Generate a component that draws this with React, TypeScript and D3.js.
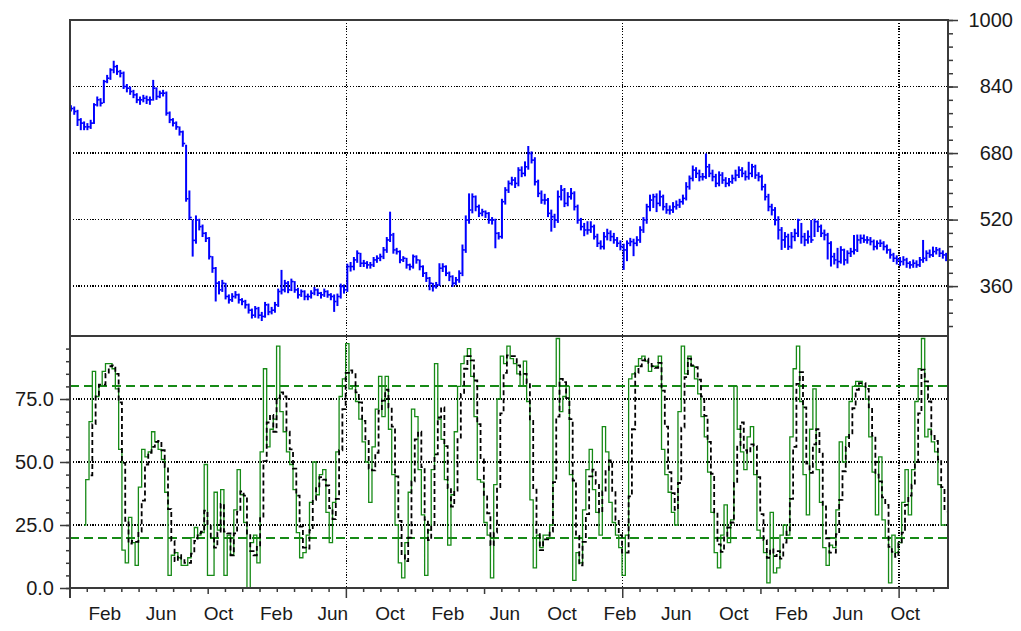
import React, { useEffect, useRef } from "react"
import * as d3 from "d3"

// weekly bars, first one on START
const START = new Date(2001, 10, 21)
const DAY = 864e5
// visible x range in days from START, and spacing of the x axis ticks in days
const X_DAYS = [-2, 1866]
const TICK_DAYS = 36.75

const CLOSE = [
  787, 780, 760, 752, 743, 743, 752, 796, 808, 800,
  852, 860, 880, 888, 876, 872, 840, 836, 828, 820,
  808, 808, 812, 808, 808, 836, 816, 824, 824, 776,
  760, 752, 743, 731, 703, 570, 525, 470, 519, 503,
  487, 475, 431, 403, 367, 351, 367, 335, 327, 335,
  339, 327, 323, 315, 302, 290, 306, 290, 287, 315,
  298, 302, 315, 347, 351, 367, 351, 371, 351, 339,
  347, 335, 335, 343, 351, 343, 339, 347, 339, 335,
  323, 335, 359, 351, 407, 407, 423, 439, 415, 415,
  411, 411, 423, 427, 431, 447, 471, 483, 447, 443,
  423, 427, 411, 407, 431, 423, 407, 391, 379, 367,
  359, 363, 403, 407, 391, 383, 367, 375, 391, 447,
  519, 543, 575, 551, 535, 539, 535, 519, 519, 487,
  479, 563, 591, 607, 615, 607, 639, 631, 647, 679,
  663, 611, 583, 567, 567, 535, 527, 519, 575, 591,
  559, 575, 583, 551, 519, 503, 495, 495, 503, 479,
  463, 455, 479, 487, 479, 471, 463, 455, 447, 463,
  467, 463, 471, 495, 519, 551, 567, 575, 559, 575,
  551, 543, 543, 551, 555, 563, 571, 599, 619, 639,
  631, 623, 623, 647, 631, 623, 607, 627, 615, 607,
  611, 619, 627, 639, 631, 623, 631, 647, 627, 623,
  599, 575, 551, 543, 519, 495, 471, 479, 455, 479,
  487, 519, 479, 471, 479, 471, 515, 503, 487, 483,
  463, 431, 423, 419, 447, 423, 439, 443, 447, 471,
  475, 471, 471, 467, 455, 463, 463, 455, 447, 435,
  427, 423, 419, 423, 415, 411, 415, 411, 423, 427,
  439, 435, 443, 447, 439, 435, 427,
]

const HIGH = [
  795, 792, 784, 764, 756, 752, 760, 800, 816, 812,
  856, 868, 884, 902, 892, 880, 876, 846, 840, 832,
  824, 816, 820, 818, 816, 856, 838, 830, 832, 828,
  780, 764, 756, 744, 734, 700, 590, 520, 530, 522,
  508, 490, 478, 432, 406, 372, 375, 368, 340, 343,
  348, 342, 331, 327, 318, 306, 312, 310, 298, 322,
  318, 310, 322, 354, 399, 375, 372, 378, 372, 356,
  352, 350, 342, 350, 358, 354, 346, 354, 350, 343,
  340, 342, 366, 364, 414, 418, 430, 446, 440, 423,
  420, 418, 430, 434, 438, 454, 478, 539, 488, 452,
  446, 432, 428, 414, 436, 434, 424, 410, 394, 382,
  368, 370, 415, 415, 410, 395, 386, 382, 398, 460,
  530, 583, 583, 578, 556, 546, 542, 538, 526, 522,
  490, 570, 598, 614, 623, 622, 646, 648, 660, 697,
  684, 670, 616, 590, 582, 572, 544, 534, 590, 603,
  596, 586, 596, 588, 556, 524, 512, 516, 516, 508,
  486, 470, 490, 498, 494, 488, 478, 470, 462, 470,
  476, 474, 480, 504, 526, 558, 580, 582, 583, 590,
  580, 560, 554, 562, 566, 570, 580, 610, 626, 650,
  646, 640, 632, 679, 654, 640, 630, 636, 634, 622,
  620, 628, 640, 648, 646, 638, 659, 654, 652, 634,
  628, 606, 582, 558, 550, 528, 502, 490, 486, 490,
  498, 522, 512, 488, 494, 519, 522, 518, 508, 496,
  488, 468, 440, 452, 456, 450, 446, 452, 483, 484,
  484, 484, 480, 478, 472, 470, 472, 468, 460, 450,
  440, 434, 430, 432, 428, 420, 424, 422, 430, 471,
  446, 448, 455, 454, 452, 446, 440,
]

const LOW = [
  780, 772, 745, 735, 735, 735, 738, 750, 792, 792,
  800, 848, 856, 872, 868, 862, 834, 826, 820, 812,
  800, 796, 802, 798, 796, 806, 808, 812, 816, 770,
  752, 744, 736, 722, 695, 563, 519, 431, 462, 494,
  478, 466, 424, 392, 323, 340, 346, 328, 318, 322,
  330, 318, 314, 306, 294, 282, 284, 282, 276, 284,
  290, 292, 296, 310, 340, 345, 343, 348, 344, 330,
  334, 326, 326, 330, 338, 336, 330, 334, 332, 326,
  298, 312, 330, 342, 346, 395, 398, 416, 406, 406,
  402, 402, 406, 416, 420, 425, 440, 466, 438, 436,
  415, 418, 402, 398, 402, 414, 398, 382, 370, 350,
  347, 354, 360, 394, 384, 372, 358, 362, 368, 384,
  440, 510, 535, 540, 526, 528, 524, 510, 508, 451,
  472, 474, 556, 584, 602, 596, 600, 622, 624, 640,
  655, 602, 574, 558, 556, 526, 491, 500, 512, 566,
  550, 552, 568, 542, 510, 494, 480, 484, 488, 472,
  454, 448, 448, 470, 468, 462, 454, 446, 399, 420,
  456, 432, 456, 464, 488, 510, 540, 548, 538, 552,
  542, 534, 532, 536, 544, 548, 556, 566, 592, 612,
  620, 612, 614, 618, 622, 612, 598, 600, 606, 598,
  600, 606, 612, 620, 622, 614, 616, 622, 618, 612,
  590, 566, 540, 530, 506, 472, 447, 452, 447, 450,
  468, 478, 462, 456, 462, 464, 478, 490, 478, 470,
  424, 407, 412, 403, 414, 410, 414, 430, 436, 442,
  462, 464, 462, 458, 446, 448, 454, 446, 438, 426,
  418, 412, 408, 410, 404, 402, 404, 404, 406, 416,
  420, 428, 430, 436, 430, 426, 420,
]

// fast stochastic %K, one value per bar (none before the 5th bar)
const PCT_K = [
  null, null, null, null, 25, 43, 66, 86, 76, 80,
  86, 89, 89, 87, 79, 55, 15, 10, 28, 18,
  9, 40, 55, 52, 54, 62, 58, 55, 51, 38,
  5, 13, 14, 12, 9, 9, 12, 20, 24, 21,
  22, 49, 5, 5, 38, 23, 39, 5, 21, 13,
  31, 47, 37, 26, 0, 18, 21, 10, 54, 87,
  56, 63, 67, 96, 70, 62, 54, 49, 39, 22,
  12, 14, 21, 34, 50, 37, 45, 47, 30, 18,
  34, 54, 76, 83, 97, 79, 80, 74, 67, 58,
  50, 34, 56, 71, 84, 68, 84, 63, 45, 25,
  10, 4, 18, 38, 71, 68, 47, 29, 5, 23,
  47, 89, 67, 59, 43, 17, 37, 62, 80, 89,
  92, 95, 84, 68, 43, 42, 26, 21, 4, 41,
  75, 92, 89, 96, 91, 89, 85, 80, 90, 74,
  35, 8, 21, 16, 21, 21, 25, 80, 99, 70,
  76, 80, 45, 3, 14, 10, 31, 47, 55, 39,
  30, 21, 64, 54, 34, 26, 21, 16, 5, 21,
  83, 85, 88, 91, 92, 90, 86, 88, 88, 92,
  55, 45, 38, 30, 25, 70, 96, 85, 92, 88,
  83, 77, 68, 60, 46, 30, 14, 8, 21, 33,
  18, 27, 80, 63, 54, 47, 60, 64, 45, 23,
  20, 14, 2, 30, 6, 8, 21, 25, 21, 60,
  87, 96, 74, 45, 29, 63, 79, 47, 34, 16,
  9, 17, 16, 31, 58, 50, 60, 74, 80, 82,
  82, 80, 75, 60, 46, 29, 52, 27, 20, 2,
  21, 14, 18, 34, 47, 29, 47, 74, 87, 99,
  60, 63, 58, 54, 41, 25, 25,
]

// slow line %D: 3 bar average of %K
const PCT_D = PCT_K.map((k, i) => {
  const w = PCT_K.slice(Math.max(0, i - 2), i + 1)
  return w.length === 3 && w.every(v => v != null) ? d3.mean(w as number[]) : null
})

const PRICE_DOMAIN = [240, 1000]
const PRICE_LABELS = [360, 520, 680, 840, 1000]
const PRICE_GRID = [360, 520, 680, 840]
const PRICE_MINOR = 32
const OSC_LABELS = [0, 25, 50, 75]
const OSC_BANDS = [20, 80]
const OSC_MINOR = 5
const LABEL_MONTHS = [1, 5, 9] // Feb, Jun, Oct

const FONT = "'Liberation Sans', Arial, sans-serif"
const INK = "#1a1a1a"
const FRAME = "#3a3a3a"
const GREEN = "#168a16"

const App = () => {
  const ref = useRef<SVGSVGElement>(null)

  useEffect(() => {
    const dims = { left: 70, right: 948, top: 20, split: 336, bottom: 588 }

    const svg = d3.select(ref.current)
    svg.selectAll("*").remove()

    const dayToDate = (d: number) => new Date(START.getTime() + d * DAY)
    const dates = CLOSE.map((_, i) => dayToDate(i * 7))

    // Scales
    const x = d3.scaleTime()
      .domain(X_DAYS.map(dayToDate))
      .range([dims.left, dims.right])
    const yPrice = d3.scaleLinear()
      .domain(PRICE_DOMAIN)
      .range([dims.split, dims.top])
    const yOsc = d3.scaleLinear()
      .domain([0, 100])
      .range([dims.bottom, dims.split])

    const nTicks = Math.floor((X_DAYS[1] - X_DAYS[0]) / TICK_DAYS)
    const xTicks = d3.range(0, nTicks + 1).map(k => ({
      k,
      date: dayToDate(X_DAYS[0] + k * TICK_DAYS),
    }))

    svg.append("rect")
      .attr("width", 1021).attr("height", 631).attr("fill", "#fff")

    // Grid
    const grid = svg.append("g")
      .attr("stroke", "#000")
      .attr("stroke-width", 1.5)
      .attr("stroke-dasharray", "1.2 1.6")
      .attr("shape-rendering", "crispEdges")

    grid.selectAll(".hp")
      .data(PRICE_GRID)
      .join("line")
      .attr("x1", dims.left).attr("x2", dims.right)
      .attr("y1", d => yPrice(d)).attr("y2", d => yPrice(d))

    grid.selectAll(".ho")
      .data(OSC_LABELS.filter(d => d > 0))
      .join("line")
      .attr("class", "ho")
      .attr("x1", dims.left).attr("x2", dims.right)
      .attr("y1", d => yOsc(d)).attr("y2", d => yOsc(d))

    grid.selectAll(".v")
      .data(xTicks.filter(t => t.k > 0 && t.k % 16 === 0))
      .join("line")
      .attr("class", "v")
      .attr("x1", d => x(d.date)).attr("x2", d => x(d.date))
      .attr("y1", dims.top).attr("y2", dims.bottom)

    // Overbought / oversold bands
    svg.append("g")
      .selectAll("line")
      .data(OSC_BANDS)
      .join("line")
      .attr("x1", dims.left).attr("x2", dims.right)
      .attr("y1", d => yOsc(d)).attr("y2", d => yOsc(d))
      .attr("stroke", GREEN)
      .attr("stroke-width", 2)
      .attr("stroke-dasharray", "9 5")
      .attr("shape-rendering", "crispEdges")

    // Price bars (high-low with close tick)
    const bars = svg.append("g")
      .attr("stroke", "#0000ff")
      .attr("stroke-width", 2)

    bars.selectAll(".hl")
      .data(CLOSE)
      .join("line")
      .attr("class", "hl")
      .attr("x1", (_, i) => x(dates[i])).attr("x2", (_, i) => x(dates[i]))
      .attr("y1", (_, i) => yPrice(HIGH[i])).attr("y2", (_, i) => yPrice(LOW[i]))

    bars.selectAll(".c")
      .data(CLOSE)
      .join("line")
      .attr("class", "c")
      .attr("stroke-width", 1.6)
      .attr("x1", (_, i) => x(dates[i])).attr("x2", (_, i) => x(dates[i]) + 2.4)
      .attr("y1", d => yPrice(d)).attr("y2", d => yPrice(d))

    // Stochastic lines
    const oscLine = d3.line<number | null>()
      .defined(d => d != null)
      .curve(d3.curveStep)
      .x((_, i) => x(dates[i]))
      .y(d => yOsc(d as number))

    svg.append("path")
      .datum(PCT_K)
      .attr("d", oscLine)
      .attr("fill", "none")
      .attr("stroke", GREEN)
      .attr("stroke-width", 1.3)

    svg.append("path")
      .datum(PCT_D)
      .attr("d", oscLine)
      .attr("fill", "none")
      .attr("stroke", "#000")
      .attr("stroke-width", 1.8)
      .attr("stroke-dasharray", "5 3")

    // Frames
    const frame = svg.append("g")
      .attr("stroke", FRAME)
      .attr("stroke-width", 2)
      .attr("fill", "none")
      .attr("shape-rendering", "crispEdges")
    frame.append("path")
      .attr("d", `M${dims.left},${dims.split}V${dims.top}H${dims.right}V${dims.bottom}H${dims.left}V${dims.split}H${dims.right}`)
    frame.append("line")
      .attr("x1", dims.left).attr("x2", dims.left)
      .attr("y1", dims.bottom).attr("y2", dims.bottom + 10)

    // Price axis on the right
    const priceMinor = d3.range(PRICE_DOMAIN[1], PRICE_DOMAIN[0], -PRICE_MINOR)
    svg.append("g")
      .attr("transform", `translate(${dims.right},0)`)
      .call(d3.axisRight(yPrice).tickValues(priceMinor).tickSize(5).tickFormat(() => ""))
      .call(g => g.select(".domain").remove())
      .call(g => g.selectAll("line").attr("stroke", FRAME).attr("stroke-width", 1.5))

    svg.append("g")
      .attr("transform", `translate(${dims.right},0)`)
      .call(d3.axisRight(yPrice).tickValues(PRICE_LABELS).tickSize(10).tickFormat(d3.format("d")))
      .call(g => g.select(".domain").remove())
      .call(g => g.selectAll("line").attr("stroke", FRAME).attr("stroke-width", 1.5))
      .call(g => g.selectAll("text")
        .attr("x", 65)
        .attr("text-anchor", "end")
        .attr("fill", INK)
        .style("font-family", FONT)
        .style("font-size", "20px"))

    // Oscillator axis on the left
    svg.append("g")
      .attr("transform", `translate(${dims.left},0)`)
      .call(d3.axisLeft(yOsc).tickValues(d3.range(0, 100, OSC_MINOR)).tickSize(4).tickFormat(() => ""))
      .call(g => g.select(".domain").remove())
      .call(g => g.selectAll("line").attr("stroke", FRAME).attr("stroke-width", 1.5))

    svg.append("g")
      .attr("transform", `translate(${dims.left},0)`)
      .call(d3.axisLeft(yOsc).tickValues(OSC_LABELS).tickSize(10).tickFormat(d3.format(".1f")))
      .call(g => g.select(".domain").remove())
      .call(g => g.selectAll("line").attr("stroke", FRAME).attr("stroke-width", 1.5))
      .call(g => g.selectAll("text")
        .attr("x", -16)
        .attr("fill", INK)
        .style("font-family", FONT)
        .style("font-size", "20px"))

    // Time axis
    const timeAxis = svg.append("g")
      .attr("stroke", FRAME)
      .attr("stroke-width", 1.5)
    timeAxis.selectAll("line")
      .data(xTicks.filter(t => t.k > 0))
      .join("line")
      .attr("x1", d => x(d.date)).attr("x2", d => x(d.date))
      .attr("y1", dims.bottom)
      .attr("y2", d => dims.bottom + (d.k % 16 === 0 ? 10 : d.k % 8 === 0 ? 6 : 4))

    const months = d3.timeMonths(x.domain()[0], x.domain()[1])
      .filter(m => LABEL_MONTHS.includes(m.getMonth()))
    svg.append("g")
      .selectAll("text")
      .data(months)
      .join("text")
      .attr("x", d => x(d))
      .attr("y", 620)
      .attr("text-anchor", "middle")
      .attr("fill", INK)
      .style("font-family", FONT)
      .style("font-size", "19px")
      .text(d3.timeFormat("%b"))
  }, [])

  return (
    <svg
      ref={ref}
      width={1021}
      height={631}
      style={{ position: "absolute", left: 0, top: 0, display: "block" }}
    />
  )
}

export default App
